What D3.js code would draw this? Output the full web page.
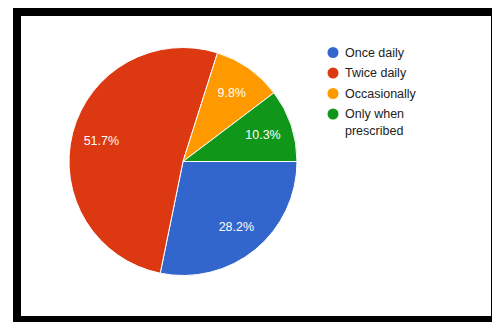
<!DOCTYPE html>
<html>
<head>
<meta charset="utf-8">
<script src="https://cdn.jsdelivr.net/npm/d3@7/dist/d3.min.js"></script>
<style>
  html, body { margin: 0; padding: 0; background: #fff; }
  svg { display: block; }
  text { font-family: Arial, "Liberation Sans", sans-serif; }
</style>
</head>
<body>
<svg id="chart" width="492" height="322"></svg>
<script>
// Answers to a frequency question, as shares of all responses
const categories = ["Once daily", "Twice daily", "Occasionally", "Only when prescribed"];
const percents = [28.2, 51.7, 9.8, 10.3];
const colors = ["#3366cc", "#dc3912", "#ff9900", "#109618"];
const legendLines = [["Once daily"], ["Twice daily"], ["Occasionally"], ["Only when", "prescribed"]];

const svg = d3.select("#chart");

// Black frame around the white panel
svg.append("rect").attr("x", 13).attr("y", 8).attr("width", 490).attr("height", 330).attr("fill", "#000");
svg.append("rect").attr("x", 21).attr("y", 16).attr("width", 470).attr("height", 300).attr("fill", "#fff");

const cx = 183, cy = 161.5, r = 114;

const pie = d3.pie()
  .value(d => d.value)
  .sort(null)
  .startAngle(Math.PI / 2)
  .endAngle(Math.PI / 2 + 2 * Math.PI);

const data = categories.map((c, i) => ({ name: c, value: percents[i], color: colors[i] }));
const arcs = pie(data);

const arc = d3.arc().innerRadius(0).outerRadius(r);
const labelArc = d3.arc().innerRadius(r * 0.74).outerRadius(r * 0.74);

const g = svg.append("g").attr("transform", `translate(${cx},${cy})`);

g.selectAll("path.slice")
  .data(arcs)
  .join("path")
  .attr("class", "slice")
  .attr("d", arc)
  .attr("fill", d => d.data.color)
  .attr("stroke", "#fff")
  .attr("stroke-width", 1);

g.selectAll("text.pct")
  .data(arcs)
  .join("text")
  .attr("class", "pct")
  .attr("transform", d => {
    const [x, y] = labelArc.centroid(d);
    return `translate(${x},${y})`;
  })
  .attr("text-anchor", "middle")
  .attr("dy", "0.35em")
  .attr("fill", "#fff")
  .attr("font-size", 12.5)
  .text(d => d.data.value.toFixed(1) + "%");

// Legend
const legend = svg.append("g").attr("transform", "translate(333,52.5)");
const item = legend.selectAll("g.item")
  .data(data)
  .join("g")
  .attr("class", "item")
  .attr("transform", (d, i) => `translate(0,${i * 20.5})`);

item.append("circle")
  .attr("r", 5.5)
  .attr("fill", d => d.color);

item.each(function (d, i) {
  const t = d3.select(this).append("text")
    .attr("x", 12)
    .attr("dy", "0.35em")
    .attr("fill", "#222")
    .attr("font-size", 12.5);
  legendLines[i].forEach((line, j) => {
    t.append("tspan").attr("x", 12).attr("dy", j === 0 ? "0.35em" : 16.5).text(line);
  });
});
</script>
</body>
</html>
